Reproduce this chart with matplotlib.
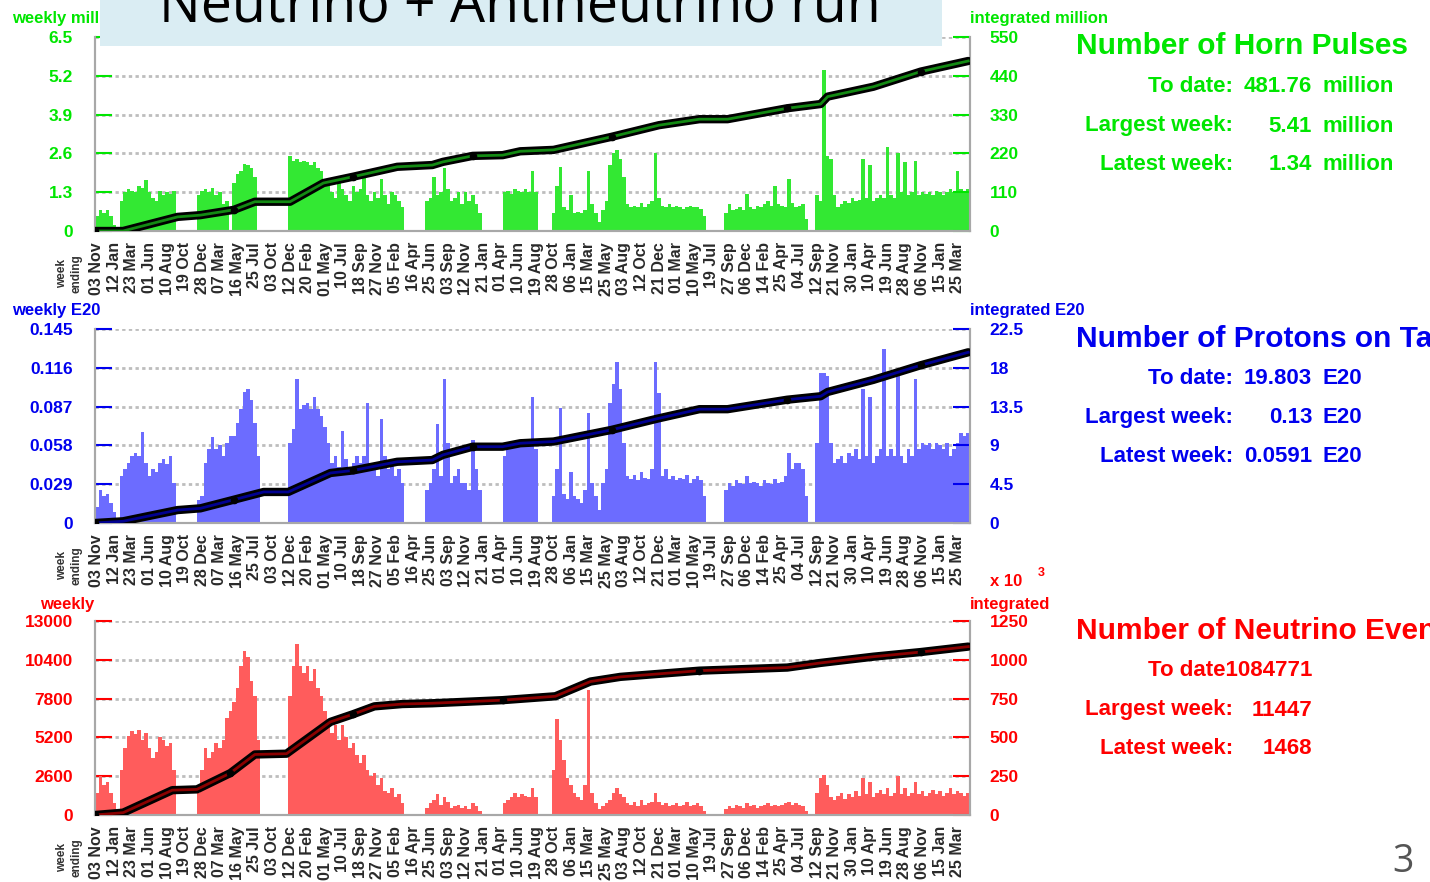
import matplotlib
matplotlib.use('Agg')
import matplotlib.pyplot as plt
from matplotlib.patches import Rectangle
import numpy as np

# ---------------- data ----------------
week_labels = ['03 Nov', '12 Jan', '23 Mar', '01 Jun', '10 Aug', '19 Oct', '28 Dec', '07 Mar', '16 May', '25 Jul',
               '03 Oct', '12 Dec', '20 Feb', '01 May', '10 Jul', '18 Sep', '27 Nov', '05 Feb', '16 Apr', '25 Jun',
               '03 Sep', '12 Nov', '21 Jan', '01 Apr', '10 Jun', '19 Aug', '28 Oct', '06 Jan', '15 Mar', '25 May',
               '03 Aug', '12 Oct', '21 Dec', '01 Mar', '10 May', '19 Jul', '27 Sep', '06 Dec', '14 Feb', '25 Apr',
               '04 Jul', '12 Sep', '21 Nov', '30 Jan', '10 Apr', '19 Jun', '28 Aug', '06 Nov', '15 Jan', '25 Mar']
tick_weeks = [1 + 10 * k for k in range(len(week_labels))]

# weekly horn pulses (million), two-week bins
horn_weekly = (
    [0.5, 0.7, 0.6, 0.7, 0.5, 0.2, 0, 1.0, 1.3, 1.4, 1.35, 1.3, 1.5, 1.45, 1.7, 1.3, 1.1, 1.0, 1.35, 1.2, 1.3, 1.25, 1.35, 0, 0] +
    [0, 0, 0, 0, 1.2, 1.35, 1.4, 1.3, 1.45, 1.2, 1.3, 0.9, 1.0, 0, 1.6, 1.9, 2.0, 2.25, 2.2, 2.1, 1.8, 0, 0, 0, 0] +
    [0, 0, 0, 0, 0, 2.5, 2.35, 2.4, 2.3, 2.35, 2.3, 2.2, 2.3, 2.1, 2.0, 1.6, 1.5, 1.3, 1.1, 1.6, 1.4, 1.2, 1.0, 1.5, 1.3] +
    [1.4, 1.8, 1.2, 1.0, 1.3, 1.1, 1.75, 1.2, 0.9, 1.3, 1.2, 1.0, 0.8, 0, 0, 0, 0, 0, 0, 1.0, 1.1, 1.8, 1.2, 1.3, 2.1] +
    [1.4, 1.0, 1.1, 1.3, 0.9, 1.3, 1.0, 1.2, 0.9, 0.6, 0, 0, 0, 0, 0, 0, 1.3, 1.35, 1.25, 1.4, 1.35, 1.3, 1.4, 1.3, 2.0] +
    [1.3, 0, 0, 0, 0, 0.6, 1.5, 2.15, 0.8, 0.7, 1.2, 0.6, 0.65, 0.6, 0.7, 2.0, 0.9, 0.6, 0.3, 0.7, 1.0, 2.2, 2.6, 2.7, 2.4] +
    [1.8, 0.9, 0.8, 0.85, 0.8, 0.95, 0.8, 0.9, 1.0, 2.6, 1.1, 0.85, 0.8, 0.9, 0.8, 0.85, 0.8, 0.75, 0.8, 0.85, 0.8, 0.8, 0.75, 0.5, 0] +
    [0, 0, 0, 0, 0.6, 0.9, 0.7, 0.75, 0.8, 0.7, 1.25, 0.8, 0.75, 0.85, 0.8, 0.9, 1.0, 0.85, 1.5, 0.9, 0.85, 0.8, 1.75, 0.95, 0.8] +
    [0.85, 0.9, 0.4, 0, 0, 1.2, 1.0, 5.41, 2.5, 2.4, 1.2, 0.8, 0.9, 1.0, 0.95, 1.1, 1.0, 1.05, 2.4, 1.1, 2.2, 1.0, 1.1, 1.2, 1.1] +
    [2.8, 1.2, 1.1, 2.6, 1.3, 2.3, 1.2, 1.3, 2.35, 1.2, 1.3, 1.25, 1.3, 1.2, 1.35, 1.3, 1.2, 1.3, 1.4, 1.3, 2.0, 1.4, 1.3, 1.4, 1.34]
)
horn_cum_weeks = [0, 16, 47, 60, 79, 91, 111, 130, 147, 172, 192, 198, 215, 232, 242, 261, 294, 321, 344, 360, 394, 413, 417, 443, 470, 497]
horn_cum = [0, 0, 40, 45, 60, 83, 83, 136, 154, 182, 187, 196, 213, 215, 226, 230, 267, 300, 317, 317, 348, 360, 381, 409, 452, 482]

# weekly protons on target (E20)
pot_weekly = (
    [0.012, 0.025, 0.02, 0.022, 0.015, 0.008, 0, 0.035, 0.04, 0.045, 0.05, 0.052, 0.05, 0.068, 0.045, 0.035, 0.04, 0.038, 0.045, 0.048, 0.044, 0.05, 0.03, 0, 0] +
    [0, 0, 0, 0, 0.017, 0.02, 0.045, 0.055, 0.064, 0.055, 0.058, 0.05, 0.06, 0.065, 0.065, 0.075, 0.085, 0.098, 0.1, 0.092, 0.075, 0.05, 0, 0, 0] +
    [0, 0, 0, 0, 0, 0.06, 0.07, 0.108, 0.085, 0.088, 0.09, 0.085, 0.094, 0.085, 0.08, 0.072, 0.06, 0.045, 0.05, 0.042, 0.069, 0.048, 0.04, 0.045, 0.05] +
    [0.045, 0.05, 0.09, 0.045, 0.04, 0.035, 0.078, 0.05, 0.04, 0.045, 0.035, 0.04, 0.03, 0, 0, 0, 0, 0, 0, 0.025, 0.03, 0.04, 0.074, 0.035, 0.108] +
    [0.06, 0.03, 0.035, 0.04, 0.03, 0.03, 0.025, 0.062, 0.04, 0.025, 0, 0, 0, 0, 0, 0, 0.05, 0.055, 0.058, 0.06, 0.057, 0.06, 0.058, 0.06, 0.094] +
    [0.055, 0, 0, 0, 0, 0.02, 0.04, 0.086, 0.022, 0.018, 0.038, 0.02, 0.018, 0.015, 0.025, 0.082, 0.03, 0.02, 0.01, 0.03, 0.04, 0.09, 0.104, 0.12, 0.1] +
    [0.06, 0.035, 0.033, 0.036, 0.032, 0.038, 0.034, 0.033, 0.04, 0.12, 0.097, 0.035, 0.04, 0.033, 0.035, 0.032, 0.034, 0.033, 0.036, 0.03, 0.033, 0.035, 0.032, 0.02, 0] +
    [0, 0, 0, 0, 0.025, 0.03, 0.028, 0.032, 0.03, 0.029, 0.035, 0.03, 0.031, 0.03, 0.028, 0.032, 0.03, 0.029, 0.033, 0.03, 0.031, 0.035, 0.052, 0.04, 0.045] +
    [0.045, 0.04, 0.02, 0, 0, 0.06, 0.112, 0.112, 0.11, 0.06, 0.045, 0.048, 0.05, 0.045, 0.052, 0.05, 0.055, 0.048, 0.1, 0.05, 0.094, 0.045, 0.05, 0.055, 0.13] +
    [0.05, 0.055, 0.05, 0.112, 0.05, 0.045, 0.055, 0.05, 0.108, 0.055, 0.06, 0.058, 0.06, 0.055, 0.06, 0.058, 0.055, 0.06, 0.05, 0.055, 0.06, 0.067, 0.065, 0.067, 0.059]
)
pot_cum_weeks = [0, 16, 47, 60, 79, 96, 110, 134, 147, 172, 192, 198, 215, 232, 242, 261, 294, 320, 344, 360, 394, 413, 417, 443, 470, 497]
pot_cum = [0, 0.2, 1.5, 1.7, 2.7, 3.6, 3.6, 5.8, 6.1, 7.1, 7.3, 7.9, 8.85, 8.85, 9.25, 9.45, 10.8, 12.1, 13.2, 13.2, 14.3, 14.7, 15.2, 16.6, 18.3, 19.8]

# weekly neutrino events
nu_weekly = (
    [1500, 2600, 2000, 2200, 1500, 800, 0, 3000, 4500, 5300, 5600, 5400, 5700, 5000, 5500, 4500, 3800, 4200, 5200, 5000, 4600, 4800, 3000, 0, 0] +
    [0, 0, 0, 0, 1500, 3000, 4500, 3800, 4200, 4800, 4500, 5000, 6500, 7000, 7600, 8500, 10000, 11000, 10600, 9000, 8000, 5000, 0, 0, 0] +
    [0, 0, 0, 0, 0, 8000, 10000, 11447, 10000, 9500, 10000, 9000, 9800, 8500, 8000, 7000, 6000, 5500, 6000, 5000, 6000, 5200, 4500, 4800, 4000] +
    [3500, 4000, 3000, 2600, 2800, 2000, 2500, 1600, 1500, 1800, 1200, 1400, 800, 0, 0, 0, 0, 0, 0, 500, 800, 1000, 1400, 700, 1200] +
    [900, 500, 600, 700, 500, 600, 400, 800, 600, 300, 0, 0, 0, 0, 0, 0, 800, 1000, 1200, 1500, 1200, 1400, 1300, 1200, 1800] +
    [1200, 0, 0, 0, 0, 3000, 6400, 5000, 3700, 2500, 2000, 1500, 1200, 1000, 2000, 8400, 1500, 800, 400, 600, 800, 1000, 1500, 1800, 1400] +
    [1200, 800, 700, 900, 600, 1000, 700, 800, 900, 1500, 900, 700, 800, 600, 700, 800, 600, 700, 900, 600, 700, 800, 600, 300, 0] +
    [0, 0, 0, 0, 400, 600, 500, 700, 600, 500, 800, 600, 700, 500, 600, 700, 800, 600, 700, 600, 700, 800, 900, 700, 800] +
    [700, 600, 300, 0, 0, 1500, 2500, 2700, 2000, 1200, 1000, 1300, 1500, 1100, 1400, 1200, 1600, 1300, 2500, 1400, 2200, 1200, 1500, 1700, 1400] +
    [1800, 1300, 1500, 2600, 1400, 1800, 1300, 1500, 2200, 1400, 1600, 1300, 1500, 1700, 1400, 1600, 1300, 1500, 1800, 1400, 1600, 1500, 1300, 1500, 1468]
)
nu_cum_weeks = [0, 16, 44, 58, 77, 91, 109, 134, 147, 159, 175, 192, 232, 262, 282, 299, 344, 394, 413, 443, 470, 497]
nu_cum = [0, 15, 160, 165, 270, 390, 395, 600, 650, 700, 715, 720, 740, 765, 860, 890, 930, 950, 980, 1020, 1050, 1085]

horn_left = ['0', '1.3', '2.6', '3.9', '5.2', '6.5']
horn_right = ['0', '110', '220', '330', '440', '550']
pot_left = ['0', '0.029', '0.058', '0.087', '0.116', '0.145']
pot_right = ['0', '4.5', '9', '13.5', '18', '22.5']
nu_left = ['0', '2600', '5200', '7800', '10400', '13000']
nu_right = ['0', '250', '500', '750', '1000', '1250']

# ---------------- figure ----------------
W, H = 1430, 882
fig = plt.figure(figsize=(W / 100, H / 100), dpi=100)
FONT = 'Liberation Sans'
plt.rcParams['font.family'] = [FONT, 'DejaVu Sans']


def fx(px):
    return px / W


def fy(py):
    return 1 - py / H


GREEN_BAR, GREEN_TXT, GREEN_CORE = '#33e833', '#00e600', '#138a13'
BLUE_BAR, BLUE_TXT, BLUE_CORE = '#6c6cff', '#0000ee', '#000090'
RED_BAR, RED_TXT, RED_CORE = '#ff5c5c', '#ff0000', '#8a0000'


def panel(top_px, bot_px, weekly, cw, cv, lticks, rticks, bar_c, txt_c, core_c):
    ax = fig.add_axes([fx(95), fy(bot_px), fx(970) - fx(95), (bot_px - top_px) / H])
    xs = np.arange(len(weekly)) * 2 + 1
    ax.bar(xs, weekly, width=2.0, color=bar_c, linewidth=0, zorder=2)
    ax.set_xlim(0, 498)
    lv = [float(t) for t in lticks]
    ax.set_ylim(0, lv[-1])
    ax.set_yticks(lv)
    ax.set_yticklabels(lticks)
    ax.yaxis.grid(True, linestyle=(0, (1.2, 1.2)), color='#bdbdbd', linewidth=2.0, zorder=1)
    ax.set_axisbelow(True)
    ax.set_xticks(tick_weeks)
    ax.set_xticklabels(week_labels, rotation=90, fontsize=11.5, fontweight='bold', color='#2a2a2a')
    ax.tick_params(axis='x', length=0, pad=8)
    ax.tick_params(axis='y', direction='in', length=12, width=1.5, color=txt_c, pad=16,
                   labelcolor=txt_c, labelsize=12.5)
    for lab in ax.get_yticklabels():
        lab.set_fontweight('bold')
    ax.spines['top'].set_visible(False)
    for s in ('left', 'bottom', 'right'):
        ax.spines[s].set_color('#a8a8a8')
        ax.spines[s].set_linewidth(1.5)

    ax2 = ax.twinx()
    rv = [float(t) for t in rticks]
    ax2.set_ylim(0, rv[-1])
    ax2.set_yticks(rv)
    ax2.set_yticklabels(rticks)
    ax2.tick_params(axis='y', direction='in', length=12, width=1.5, color=txt_c, pad=14,
                    labelcolor=txt_c, labelsize=12.5)
    for lab in ax2.get_yticklabels():
        lab.set_fontweight('bold')
    ax2.spines['top'].set_visible(False)
    for s in ('left', 'bottom', 'right'):
        ax2.spines[s].set_color('#a8a8a8')
        ax2.spines[s].set_linewidth(1.5)
    ax2.plot(cw, cv, color='black', linewidth=6, solid_joinstyle='round', solid_capstyle='round', zorder=3)
    ax2.plot(cw, cv, color=core_c, linewidth=2, zorder=4)
    ax2.plot(cw[::4], cv[::4], 'o', color='black', markersize=4.5, zorder=5)

    # "week ending" caption
    fig.text(fx(69), fy(bot_px + 43), 'week\nending', rotation=90, ha='center', va='center',
             multialignment='center', fontsize=8.5, fontweight='bold', color='#333333', linespacing=1.3)
    return ax, ax2


panel(37, 231, horn_weekly, horn_cum_weeks, horn_cum, horn_left, horn_right, GREEN_BAR, GREEN_TXT, GREEN_CORE)
panel(329, 523, pot_weekly, pot_cum_weeks, pot_cum, pot_left, pot_right, BLUE_BAR, BLUE_TXT, BLUE_CORE)
panel(621, 815, nu_weekly, nu_cum_weeks, nu_cum, nu_left, nu_right, RED_BAR, RED_TXT, RED_CORE)

# axis captions
small = dict(fontsize=12, fontweight='bold')
fig.text(fx(12), fy(19), 'weekly million', color=GREEN_TXT, ha='left', va='center', **small)
fig.text(fx(970), fy(19), 'integrated million', color=GREEN_TXT, ha='left', va='center', **small)
fig.text(fx(12), fy(311), 'weekly E20', color=BLUE_TXT, ha='left', va='center', **small)
fig.text(fx(970), fy(311), 'integrated E20', color=BLUE_TXT, ha='left', va='center', **small)
fig.text(fx(40), fy(604), 'weekly', color=RED_TXT, ha='left', va='center', **small)
fig.text(fx(970), fy(604), 'integrated', color=RED_TXT, ha='left', va='center', **small)
fig.text(fx(990), fy(581), 'x 10', color=RED_TXT, ha='left', va='center', **small)
fig.text(fx(1038), fy(573), '3', color=RED_TXT, ha='left', va='center', fontsize=9, fontweight='bold')

# info blocks
big = dict(fontsize=21.5, fontweight='bold', va='center')
mid = dict(fontsize=16, fontweight='bold', va='center')


def info(y_title, title, rows, color):
    fig.text(fx(1076), fy(y_title), title, color=color, ha='left', **big)
    for y, lab, num, unit in rows:
        if lab:
            fig.text(fx(1233), fy(y), lab, color=color, ha='right', **mid)
        fig.text(fx(1312), fy(y), num, color=color, ha='right', **mid)
        if unit:
            fig.text(fx(1323), fy(y), unit, color=color, ha='left', **mid)


info(46, 'Number of Horn Pulses',
     [(87, 'To date:', '481.76', 'million'),
      (126, 'Largest week:', '5.41', 'million'),
      (165, 'Latest week:', '1.34', 'million')], GREEN_TXT)
info(339, 'Number of Protons on Target',
     [(379, 'To date:', '19.803', 'E20'),
      (418, 'Largest week:', '0.13', 'E20'),
      (457, 'Latest week:', '0.0591', 'E20')], BLUE_TXT)
info(631, 'Number of Neutrino Events',
     [(671, '', 'To date1084771', ''),
      (710, 'Largest week:', '11447', ''),
      (749, 'Latest week:', '1468', '')], RED_TXT)

# title banner
fig.add_artist(Rectangle((fx(100), fy(46)), fx(942) - fx(100), 46 / H, transform=fig.transFigure,
                         facecolor='#daedf3', edgecolor='none', zorder=10))
fig.text(fx(520), fy(22), 'Neutrino + Antineutrino run', ha='center', va='baseline',
         fontsize=40, family=['Open Sans', 'DejaVu Sans'], color='black', zorder=11)

# page number
fig.text(fx(1403), fy(862), '3', ha='center', va='center', fontsize=27,
         family=['Open Sans', 'DejaVu Sans'], color='#555555')

fig.savefig('out.png', dpi=100)
